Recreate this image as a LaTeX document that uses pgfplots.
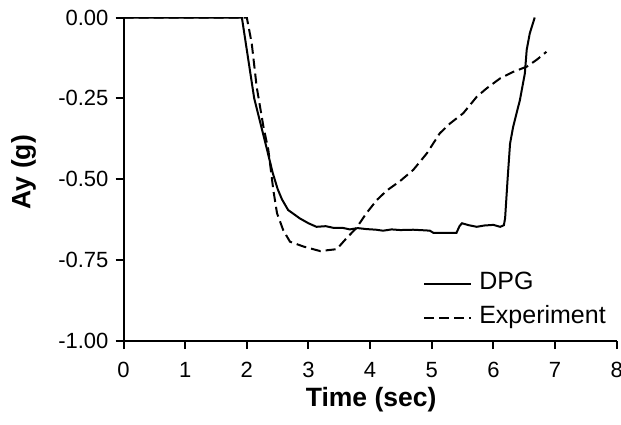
\documentclass[border=0pt]{standalone}
\usepackage{fontspec}
\setmainfont{Liberation Sans}
\usepackage{pgfplots}
\pgfplotsset{compat=1.18}

\begin{document}
\begin{tikzpicture}
  \begin{axis}[
      name=ax,
      scale only axis,
      width=246.6pt, height=161.75pt,
      xmin=0, xmax=8,
      ymin=-1, ymax=0,
      xtick={0,1,2,3,4,5,6,7,8},
      ytick={-1,-0.75,-0.5,-0.25,0},
      axis x line*=bottom,
      axis y line*=left,
      axis line style={line width=1pt},
      tick style={line width=1pt, black},
      tick align=outside,
      major tick length=4pt,
      /pgf/number format/assume math mode=true,
      yticklabel style={/pgf/number format/.cd, fixed, fixed zerofill, precision=2},
      xticklabel style={yshift=-3pt},
      tick label style={font=\fontsize{11}{13}\selectfont},
      xlabel={\textbf{Time (sec)}},
      ylabel={\textbf{Ay (g)}},
      label style={font=\fontsize{13.25}{15}\selectfont},
      xlabel style={at={([yshift=-29.5pt]rel axis cs:0.502,0)}, anchor=center},
      ylabel style={at={([xshift=-50pt]rel axis cs:0,0.522)}, anchor=center},
      legend style={draw=none, fill=none, inner sep=0pt,
        at={(rel axis cs:0.607,0.124)}, anchor=west,
        font=\fontsize{12.5}{14}\selectfont,
        row sep=5pt,
        nodes={inner sep=0pt, text height=9pt, text depth=3pt}},
      legend cell align=left,
      legend image code/.code={\draw[#1] (0pt,0pt) -- (23.5pt,0pt);},
      legend image post style={xshift=-3.5pt},
      /tikz/every odd column/.append style={column sep=3.5pt},
    ]
    \addplot[black, line width=1pt] coordinates {
      (0,0) (1.92,0) (2.12,-0.25) (2.29,-0.379) (2.42,-0.48) (2.50,-0.53)
      (2.57,-0.562) (2.67,-0.595) (2.86,-0.621) (3.00,-0.636) (3.13,-0.647)
      (3.28,-0.645) (3.40,-0.650) (3.55,-0.650) (3.67,-0.655) (3.80,-0.651)
      (3.94,-0.654) (4.10,-0.656) (4.21,-0.659) (4.35,-0.655) (4.49,-0.657)
      (4.70,-0.656) (4.90,-0.658) (4.97,-0.659) (5.03,-0.666) (5.40,-0.666)
      (5.45,-0.645) (5.49,-0.636) (5.60,-0.642) (5.73,-0.647) (5.85,-0.643)
      (6.00,-0.641) (6.11,-0.647) (6.17,-0.642) (6.19,-0.62) (6.21,-0.56)
      (6.23,-0.50) (6.27,-0.39) (6.32,-0.338) (6.43,-0.255) (6.51,-0.173)
      (6.54,-0.10) (6.59,-0.049) (6.67,0)
    };
    \addlegendentry{DPG}
    \addplot[black, line width=1pt, dash pattern=on 5pt off 2.5pt] coordinates {
      (0,0) (2.0,0) (2.08,-0.08) (2.16,-0.214) (2.27,-0.338) (2.35,-0.41)
      (2.43,-0.533) (2.49,-0.605) (2.59,-0.657) (2.70,-0.693) (2.92,-0.708)
      (3.19,-0.722) (3.46,-0.716) (3.59,-0.688) (3.78,-0.650) (3.94,-0.605)
      (4.11,-0.564) (4.27,-0.535) (4.49,-0.505) (4.70,-0.471) (4.92,-0.420)
      (5.13,-0.358) (5.30,-0.327) (5.51,-0.296) (5.73,-0.245) (5.89,-0.219)
      (6.11,-0.188) (6.32,-0.168) (6.54,-0.152) (6.70,-0.131) (6.86,-0.106)
    };
    \addlegendentry{Experiment}
  \end{axis}
  \pgfresetboundingbox
  \path ([xshift=-61.75pt,yshift=-41.5pt]ax.south west) rectangle ([xshift=2.15pt,yshift=8.75pt]ax.north east);
\end{tikzpicture}
\end{document}
